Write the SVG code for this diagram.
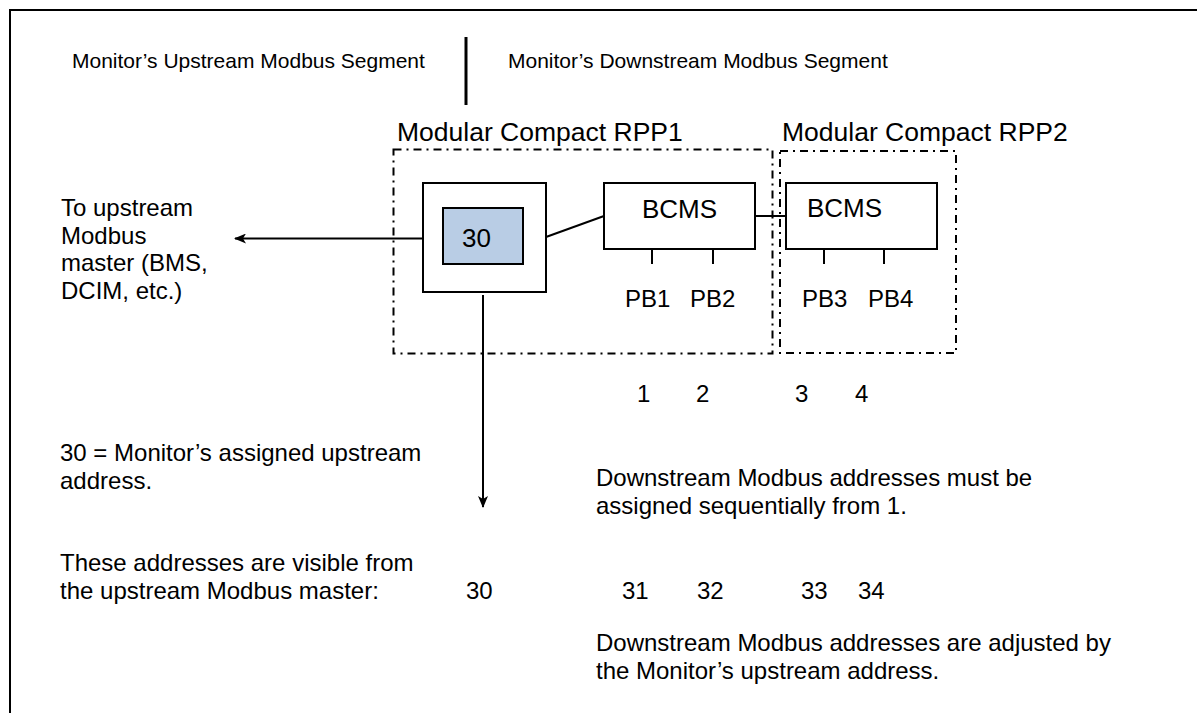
<svg xmlns="http://www.w3.org/2000/svg" width="1197" height="713" viewBox="0 0 1197 713">
<style>
text{font-family:"Liberation Sans",Arial,sans-serif;fill:#000}
.t21{font-size:21px}
.t24{font-size:24px}
.t26{font-size:26px}
.t27{font-size:26.5px}
.box{fill:#fff;stroke:#000;stroke-width:2}
.dash{fill:none;stroke:#000;stroke-width:2;stroke-dasharray:8 5 2 5}
.ln{fill:none;stroke:#000;stroke-width:2}
</style>
<defs>
<marker id="arr" viewBox="0 0 12 10" refX="11" refY="5" markerWidth="12" markerHeight="10" markerUnits="userSpaceOnUse" orient="auto">
<path d="M0,0 L12,5 L0,10 L3,5 Z" fill="#000"/>
</marker>
</defs>
<rect width="1197" height="713" fill="#fff"/>
<g id="frame">
<path d="M10,713 V10 H1197" class="ln"/>
</g>
<g id="segment-divider">
<line x1="466" y1="37" x2="466" y2="105" stroke="#000" stroke-width="3"/>
<text class="t21" x="72" y="68">Monitor’s Upstream Modbus Segment</text>
<text class="t21" x="508" y="68">Monitor’s Downstream Modbus Segment</text>
</g>
<g id="rpp1">
<rect x="393.5" y="149.5" width="379" height="204" class="dash"/>
<text class="t27" x="397" y="141">Modular Compact RPP1</text>
</g>
<g id="rpp2">
<rect x="780" y="151" width="176" height="202" class="dash"/>
<text class="t27" x="782" y="141">Modular Compact RPP2</text>
</g>
<g id="monitor">
<rect x="423" y="183" width="123" height="109" class="box"/>
<rect x="443" y="208" width="80" height="56" fill="#B9CDE5" stroke="#000" stroke-width="2"/>
<text class="t26" x="462" y="247">30</text>
</g>
<g id="bcms1">
<rect x="604" y="183" width="151" height="66" class="box"/>
<text class="t26" x="642" y="218">BCMS</text>
<line x1="652" y1="249" x2="652" y2="264" class="ln"/>
<line x1="713" y1="249" x2="713" y2="264" class="ln"/>
<text class="t24" x="625" y="307">PB1</text>
<text class="t24" x="690" y="307">PB2</text>
</g>
<g id="bcms2">
<rect x="786" y="183" width="151" height="66" class="box"/>
<text class="t26" x="807" y="217">BCMS</text>
<line x1="824" y1="249" x2="824" y2="264" class="ln"/>
<line x1="884" y1="249" x2="884" y2="264" class="ln"/>
<text class="t24" x="802" y="307">PB3</text>
<text class="t24" x="868" y="307">PB4</text>
</g>
<g id="connectors">
<line x1="423" y1="238.5" x2="235" y2="238.5" class="ln" marker-end="url(#arr)"/>
<line x1="546" y1="237" x2="604" y2="216" class="ln"/>
<line x1="755" y1="216" x2="786" y2="216" class="ln"/>
<line x1="483" y1="295" x2="483" y2="507" class="ln" marker-end="url(#arr)"/>
</g>
<g id="upstream-label">
<text class="t24" x="61" y="216">To upstream</text>
<text class="t24" x="61" y="243.5">Modbus</text>
<text class="t24" x="61" y="271">master (BMS,</text>
<text class="t24" x="61" y="298.5">DCIM, etc.)</text>
</g>
<g id="downstream-numbers">
<text class="t24" x="637" y="402">1</text>
<text class="t24" x="696" y="402">2</text>
<text class="t24" x="795" y="402">3</text>
<text class="t24" x="855" y="402">4</text>
</g>
<g id="notes">
<text class="t24" x="60" y="461">30 = Monitor’s assigned upstream</text>
<text class="t24" x="60" y="488.5">address.</text>
<text class="t24" x="596" y="486">Downstream Modbus addresses must be</text>
<text class="t24" x="596" y="513.5">assigned sequentially from 1.</text>
<text class="t24" x="60" y="571">These addresses are visible from</text>
<text class="t24" x="60" y="598.5">the upstream Modbus master:</text>
<text class="t24" x="596" y="651">Downstream Modbus addresses are adjusted by</text>
<text class="t24" x="596" y="678.5">the Monitor’s upstream address.</text>
</g>
<g id="visible-addresses">
<text class="t24" x="466" y="598.5">30</text>
<text class="t24" x="622" y="598.5">31</text>
<text class="t24" x="697" y="598.5">32</text>
<text class="t24" x="801" y="598.5">33</text>
<text class="t24" x="858" y="598.5">34</text>
</g>
</svg>
